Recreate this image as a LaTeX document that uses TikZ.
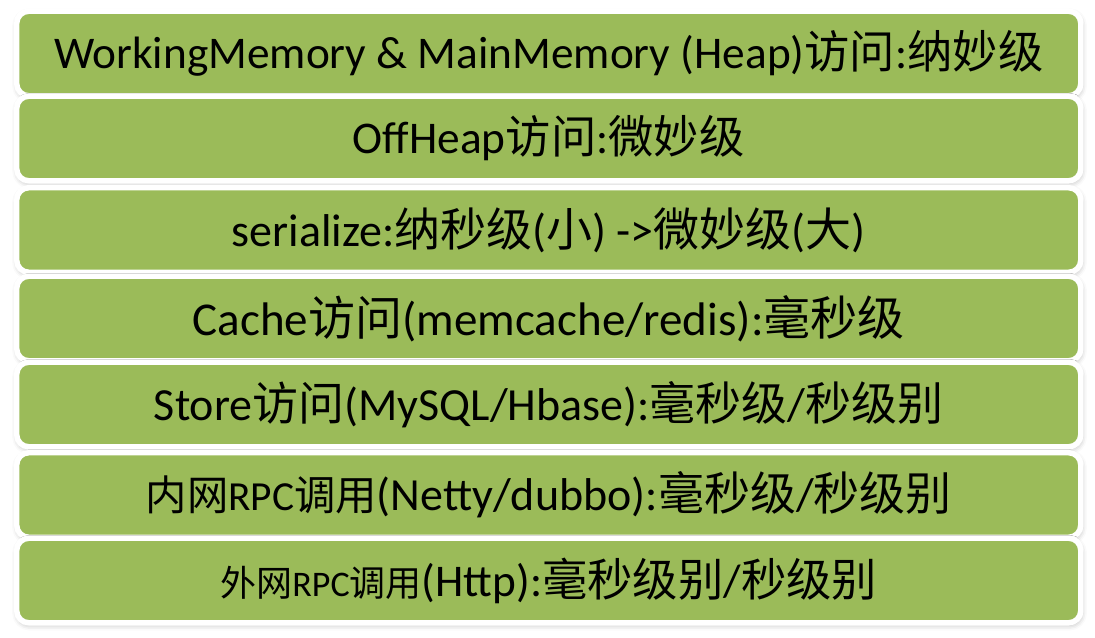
\documentclass[tikz,border=0pt]{standalone}
\usepackage{fontspec}
\setmainfont{Carlito}
\newfontfamily\cjk{Noto Sans CJK SC}
\usepackage{xcolor}
\usepackage{tikz}
\usetikzlibrary{shadows.blur}

\definecolor{levelgreen}{HTML}{9BBB59}
\newcommand{\cn}[1]{{\cjk #1}}

\begin{document}
\begin{tikzpicture}[x=0.75pt,y=-0.75pt,
  level/.style={rounded corners=9pt, draw=white, line width=4.1pt, fill=levelgreen,
    minimum width=798pt, minimum height=63.4pt, inner sep=0pt,
    blur shadow={shadow xshift=0.6pt, shadow yshift=-1.8pt, shadow blur radius=4pt, shadow opacity=30},
    font=\fontsize{34.5}{40}\selectfont}]

\useasboundingbox (0,0) rectangle (1095,638);

\node[level, font=\fontsize{34}{40}\selectfont] (heap) at (548.75,53.5) {WorkingMemory \& MainMemory (Heap)\cn{访问}:\cn{纳妙级}};
\node[level, font=\fontsize{34}{40}\selectfont] (offheap) at (548.75,138.5) {OffHeap\cn{访问}:\cn{微妙级}};
\node[level] (serial)  at (548.75,230)   {serialize:\cn{纳秒级}(\cn{小}) ->\cn{微妙级}(\cn{大})};
\node[level, font=\fontsize{35.3}{40}\selectfont] (cache) at (548.75,318.5) {Cache\cn{访问}(memcache/redis):\cn{毫秒级}};
\node[level] (store)   at (548.75,404.5) {Store\cn{访问}(MySQL/Hbase):\cn{毫秒级}/\cn{秒级别}};
\node[level] (rpcin)   at (548.75,495)   {{\fontsize{31}{36}\selectfont\cn{内网}RPC\cn{调用}}(Netty/dubbo):\cn{毫秒级}/\cn{秒级别}};
\node[level, font=\fontsize{34}{40}\selectfont] (rpcout) at (548.75,580.5) {{\fontsize{27}{32}\selectfont\cn{外网}RPC\cn{调用}}(Http):\cn{毫秒级别}/\cn{秒级别}};

\end{tikzpicture}
\end{document}
